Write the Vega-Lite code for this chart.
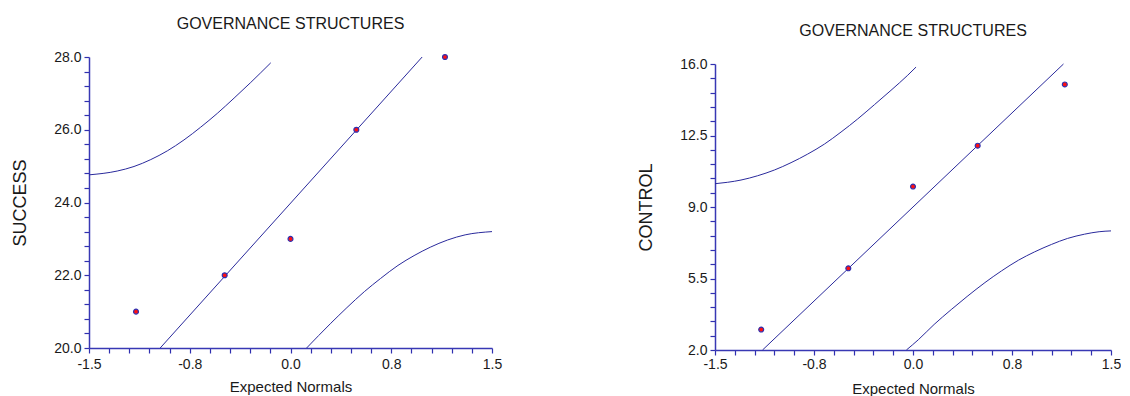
{
  "$schema": "https://vega.github.io/schema/vega-lite/v6.json",
  "background": "white",
  "padding": {"left": 11, "top": 1, "right": 0, "bottom": 0},
  "spacing": 135,
  "datasets": {
    "sPts": [{"x": -1.15, "y": 21}, {"x": -0.49, "y": 22}, {"x": 0, "y": 23}, {"x": 0.49, "y": 26}, {"x": 1.15, "y": 28}],
    "sLine": [{"x": -0.97, "y": 20}, {"x": 0.98, "y": 28}],
    "sUpper": [{"x": -1.5, "y": 24.76}, {"x": -1.29, "y": 24.865}, {"x": -1.165, "y": 24.99}, {"x": -1.04, "y": 25.18}, {"x": -0.917, "y": 25.42}, {"x": -0.793, "y": 25.72}, {"x": -0.669, "y": 26.07}, {"x": -0.545, "y": 26.45}, {"x": -0.42, "y": 26.87}, {"x": -0.296, "y": 27.3}, {"x": -0.147, "y": 27.84}],
    "sLower": [{"x": 0.12, "y": 20}, {"x": 0.3, "y": 20.68}, {"x": 0.42, "y": 21.11}, {"x": 0.55, "y": 21.55}, {"x": 0.67, "y": 21.91}, {"x": 0.8, "y": 22.27}, {"x": 0.92, "y": 22.54}, {"x": 1.04, "y": 22.77}, {"x": 1.17, "y": 22.97}, {"x": 1.3, "y": 23.11}, {"x": 1.5, "y": 23.2}],
    "cPts": [{"x": -1.15, "y": 3}, {"x": -0.49, "y": 6}, {"x": 0, "y": 10}, {"x": 0.49, "y": 12}, {"x": 1.15, "y": 15}],
    "cLine": [{"x": -1.14, "y": 2}, {"x": 1.14, "y": 16}],
    "cUpper": [{"x": -1.5, "y": 10.14}, {"x": -1.404, "y": 10.21}, {"x": -1.303, "y": 10.32}, {"x": -1.177, "y": 10.53}, {"x": -1.05, "y": 10.81}, {"x": -0.924, "y": 11.17}, {"x": -0.798, "y": 11.59}, {"x": -0.671, "y": 12.08}, {"x": -0.545, "y": 12.67}, {"x": -0.419, "y": 13.31}, {"x": -0.292, "y": 14.01}, {"x": -0.167, "y": 14.71}, {"x": -0.04, "y": 15.45}, {"x": 0.023, "y": 15.85}],
    "cLower": [{"x": -0.05, "y": 2}, {"x": 0.04, "y": 2.5}, {"x": 0.16, "y": 3.25}, {"x": 0.29, "y": 3.98}, {"x": 0.41, "y": 4.62}, {"x": 0.545, "y": 5.3}, {"x": 0.67, "y": 5.87}, {"x": 0.8, "y": 6.4}, {"x": 0.92, "y": 6.8}, {"x": 1.05, "y": 7.17}, {"x": 1.17, "y": 7.46}, {"x": 1.3, "y": 7.67}, {"x": 1.41, "y": 7.79}, {"x": 1.5, "y": 7.83}]
  },
  "hconcat": [
    {
      "spacing": 14,
      "vconcat": [
        {"width": 403, "height": 1, "data": {"values": []}, "mark": {"type": "point"}},
        {
          "width": 403,
          "height": 291,
          "title": {"text": "GOVERNANCE STRUCTURES"},
          "encoding": {
            "x": {
              "field": "x", "type": "quantitative",
              "scale": {"domain": [-1.5, 1.5], "nice": false, "zero": false},
              "axis": {
                "title": "Expected Normals",
                "values": [-1.5, -1.35, -1.2, -1.05, -0.9, -0.75, -0.6, -0.45, -0.3, -0.15, 0, 0.15, 0.3, 0.45, 0.6, 0.75, 0.9, 1.05, 1.2, 1.35, 1.5],
                "labelExpr": "datum.value == -1.5 ? '-1.5' : datum.value == -0.75 ? '-0.8' : datum.value == 0 ? '0.0' : datum.value == 0.75 ? '0.8' : datum.value == 1.5 ? '1.5' : ''",
                "labelPadding": 4,
                "titlePadding": 8
              }
            },
            "y": {
              "field": "y", "type": "quantitative",
              "scale": {"domain": [20, 28], "nice": false, "zero": false},
              "axis": {
                "title": "SUCCESS",
                "values": [20, 20.4, 20.8, 21.2, 21.6, 22, 22.4, 22.8, 23.2, 23.6, 24, 24.4, 24.8, 25.2, 25.6, 26, 26.4, 26.8, 27.2, 27.6, 28],
                "labelExpr": "indexof([20, 22, 24, 26, 28], datum.value) >= 0 ? format(datum.value, '.1f') : ''",
                "labelPadding": 3,
                "titlePadding": 24
              }
            }
          },
          "layer": [
            {"data": {"name": "sLine"}, "mark": {"type": "line", "color": "#2A2A9C", "strokeWidth": 1}, "encoding": {}},
            {"data": {"name": "sUpper"}, "mark": {"type": "line", "color": "#2A2A9C", "strokeWidth": 1, "interpolate": "monotone"}, "encoding": {}},
            {"data": {"name": "sLower"}, "mark": {"type": "line", "color": "#2A2A9C", "strokeWidth": 1, "interpolate": "monotone"}, "encoding": {}},
            {"data": {"name": "sPts"}, "mark": {"type": "point", "filled": true, "fill": "#FF1010", "stroke": "#3030B0", "strokeWidth": 1.2, "size": 24, "opacity": 1}}
          ]
        }
      ]
    },
    {
      "spacing": 21,
      "vconcat": [
        {"width": 396, "height": 1, "data": {"values": []}, "mark": {"type": "point"}},
        {
          "width": 396,
          "height": 286,
          "title": {"text": "GOVERNANCE STRUCTURES"},
          "encoding": {
            "x": {
              "field": "x", "type": "quantitative",
              "scale": {"domain": [-1.5, 1.5], "nice": false, "zero": false},
              "axis": {
                "title": "Expected Normals",
                "values": [-1.5, -1.35, -1.2, -1.05, -0.9, -0.75, -0.6, -0.45, -0.3, -0.15, 0, 0.15, 0.3, 0.45, 0.6, 0.75, 0.9, 1.05, 1.2, 1.35, 1.5],
                "labelExpr": "datum.value == -1.5 ? '-1.5' : datum.value == -0.75 ? '-0.8' : datum.value == 0 ? '0.0' : datum.value == 0.75 ? '0.8' : datum.value == 1.5 ? '1.5' : ''",
                "labelPadding": 2,
                "titlePadding": 10
              }
            },
            "y": {
              "field": "y", "type": "quantitative",
              "scale": {"domain": [2, 16], "nice": false, "zero": false},
              "axis": {
                "title": "CONTROL",
                "values": [2, 2.7, 3.4, 4.1, 4.8, 5.5, 6.2, 6.9, 7.6, 8.3, 9, 9.7, 10.4, 11.1, 11.8, 12.5, 13.2, 13.9, 14.6, 15.3, 16],
                "labelExpr": "indexof([2, 5.5, 9, 12.5, 16], datum.value) >= 0 ? format(datum.value, '.1f') : ''",
                "labelPadding": 3,
                "titlePadding": 24
              }
            }
          },
          "layer": [
            {"data": {"name": "cLine"}, "mark": {"type": "line", "color": "#2A2A9C", "strokeWidth": 1}, "encoding": {}},
            {"data": {"name": "cUpper"}, "mark": {"type": "line", "color": "#2A2A9C", "strokeWidth": 1, "interpolate": "monotone"}, "encoding": {}},
            {"data": {"name": "cLower"}, "mark": {"type": "line", "color": "#2A2A9C", "strokeWidth": 1, "interpolate": "monotone"}, "encoding": {}},
            {"data": {"name": "cPts"}, "mark": {"type": "point", "filled": true, "fill": "#FF1010", "stroke": "#3030B0", "strokeWidth": 1.2, "size": 24, "opacity": 1}}
          ]
        }
      ]
    }
  ],
  "config": {
    "view": {"stroke": null},
    "title": {"font": "Liberation Sans", "fontSize": 16, "fontWeight": "normal", "color": "#1a1a1a", "anchor": "middle", "offset": 18},
    "axis": {
      "ticks": true,
      "domainColor": "#3838B4",
      "domainWidth": 1.5,
      "tickColor": "#3030B0",
      "tickOpacity": 1,
      "tickWidth": 1.2,
      "tickSize": 5,
      "grid": false,
      "labelFont": "Liberation Sans",
      "labelFontSize": 14,
      "labelColor": "#1a1a1a",
      "labelFlush": false,
      "labelOverlap": false,
      "titleFont": "Liberation Sans",
      "titleFontWeight": "normal",
      "titleColor": "#1a1a1a"
    },
    "axisX": {"titleFontSize": 15},
    "axisY": {"titleFontSize": 18}
  }
}
